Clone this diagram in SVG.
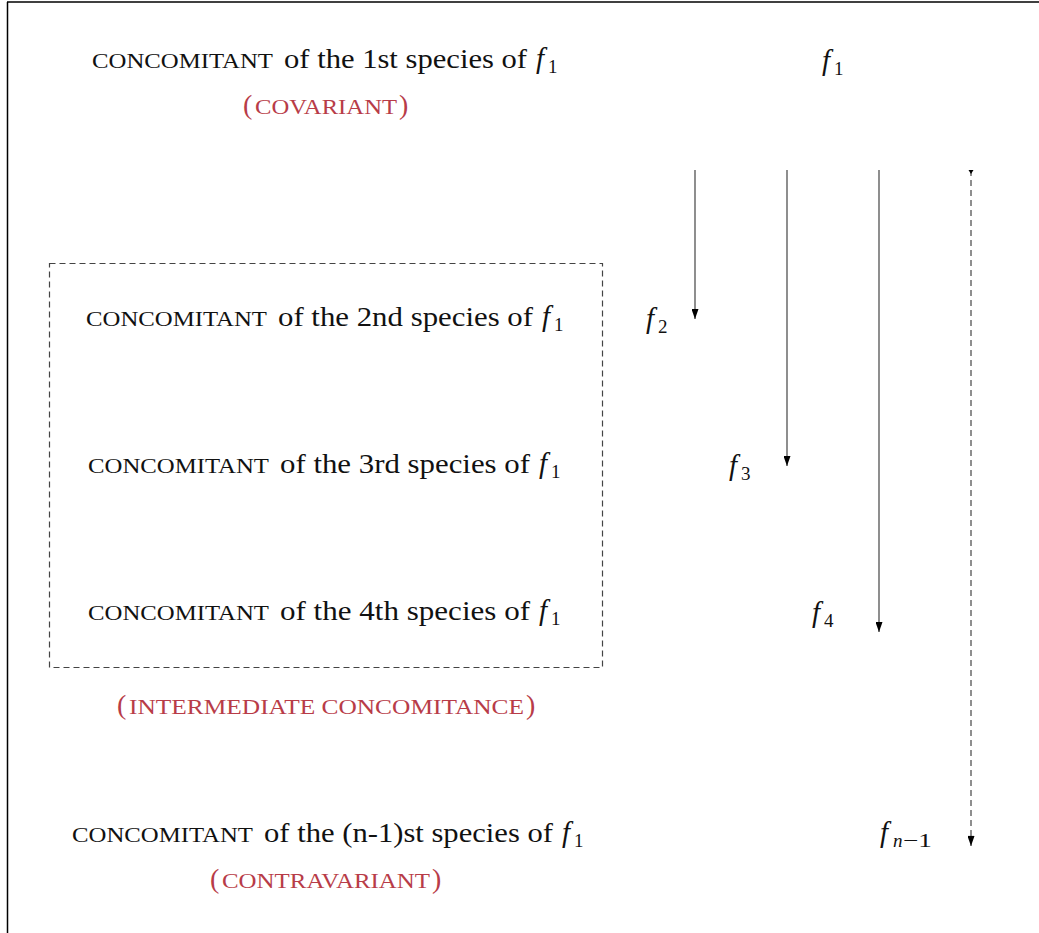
<svg xmlns="http://www.w3.org/2000/svg" width="1039" height="933" viewBox="0 0 1039 933">
  <defs>
    <style>
      text { font-family: "Liberation Serif", "DejaVu Serif", serif; fill: #111; }
      .sc { font-size: 20px; }
      .rm { font-size: 28px; }
      .it { font-size: 29px; font-style: italic; }
      .sub { font-size: 19px; }
      .subit { font-size: 19px; font-style: italic; }
      .red { fill: #b83c48; }
      .conn { stroke: #444; stroke-width: 1.2; fill: none; }
      .dash { stroke: #444; stroke-width: 1.2; fill: none; stroke-dasharray: 6 4; }
    </style>
    <marker id="ah" viewBox="0 0 10 7" refX="10" refY="3.5" markerWidth="10" markerHeight="7" markerUnits="userSpaceOnUse" orient="auto">
      <path d="M0,0 L10,3.5 L0,7 Z" fill="#000"/>
    </marker>
  </defs>
  <rect width="1039" height="933" fill="#fff"/>
  <g id="frame">
    <line x1="7" y1="2" x2="1039" y2="2" stroke="#000" stroke-width="1.5"/>
    <line x1="7.5" y1="2" x2="7.5" y2="933" stroke="#000" stroke-width="1.5"/>
  </g>

  <g id="box">
    <rect x="49.5" y="263.5" width="553" height="404" fill="none" stroke="#444" stroke-width="1.2" stroke-dasharray="6 4"/>
  </g>

  <g id="node-c1">
    <text class="sc" x="92" y="68" textLength="181" lengthAdjust="spacingAndGlyphs">CONCOMITANT</text>
    <text class="rm" x="284" y="68" textLength="243" lengthAdjust="spacingAndGlyphs">of the 1st species of</text>
    <text class="it" x="536" y="68">f</text>
    <text class="sub" x="548" y="73">1</text>
    <text class="rm red" x="243" y="114">(</text>
    <text class="sc red" x="255" y="114" textLength="142" lengthAdjust="spacingAndGlyphs">COVARIANT</text>
    <text class="rm red" x="399" y="114">)</text>
  </g>

  <g id="node-c2">
    <text class="sc" x="86" y="326" textLength="181" lengthAdjust="spacingAndGlyphs">CONCOMITANT</text>
    <text class="rm" x="278" y="326" textLength="255" lengthAdjust="spacingAndGlyphs">of the 2nd species of</text>
    <text class="it" x="542" y="326">f</text>
    <text class="sub" x="554" y="331">1</text>
  </g>

  <g id="node-c3">
    <text class="sc" x="88" y="473" textLength="181" lengthAdjust="spacingAndGlyphs">CONCOMITANT</text>
    <text class="rm" x="280" y="473" textLength="250" lengthAdjust="spacingAndGlyphs">of the 3rd species of</text>
    <text class="it" x="539" y="473">f</text>
    <text class="sub" x="551" y="478">1</text>
  </g>

  <g id="node-c4">
    <text class="sc" x="88" y="620" textLength="181" lengthAdjust="spacingAndGlyphs">CONCOMITANT</text>
    <text class="rm" x="280" y="620" textLength="250" lengthAdjust="spacingAndGlyphs">of the 4th species of</text>
    <text class="it" x="539" y="620">f</text>
    <text class="sub" x="551" y="625">1</text>
  </g>

  <g id="label-intermediate">
    <text class="rm red" x="117" y="714">(</text>
    <text class="sc red" x="129" y="714" textLength="395" lengthAdjust="spacingAndGlyphs">INTERMEDIATE CONCOMITANCE</text>
    <text class="rm red" x="526" y="714">)</text>
  </g>

  <g id="node-cn">
    <text class="sc" x="72" y="842" textLength="181" lengthAdjust="spacingAndGlyphs">CONCOMITANT</text>
    <text class="rm" x="264" y="842" textLength="289" lengthAdjust="spacingAndGlyphs">of the (n-1)st species of</text>
    <text class="it" x="562" y="842">f</text>
    <text class="sub" x="574" y="847">1</text>
    <text class="rm red" x="210" y="888">(</text>
    <text class="sc red" x="222" y="888" textLength="208" lengthAdjust="spacingAndGlyphs">CONTRAVARIANT</text>
    <text class="rm red" x="432" y="888">)</text>
  </g>

  <g id="node-f1">
    <text class="it" x="822" y="70">f</text>
    <text class="sub" x="834" y="75">1</text>
  </g>
  <g id="node-f2">
    <text class="it" x="646" y="328">f</text>
    <text class="sub" x="658" y="333">2</text>
  </g>
  <g id="node-f3">
    <text class="it" x="729" y="475">f</text>
    <text class="sub" x="741" y="480">3</text>
  </g>
  <g id="node-f4">
    <text class="it" x="812" y="622">f</text>
    <text class="sub" x="824" y="627">4</text>
  </g>
  <g id="node-fn">
    <text class="it" x="880" y="842">f</text>
    <text class="subit" x="893" y="847">n</text>
    <text class="sub" x="903" y="847" textLength="29" lengthAdjust="spacingAndGlyphs">−1</text>
  </g>

  <g id="connectors">
    <line class="conn" x1="695" y1="170" x2="695" y2="319" marker-end="url(#ah)"/>
    <line class="conn" x1="787" y1="170" x2="787" y2="466" marker-end="url(#ah)"/>
    <line class="conn" x1="879" y1="170" x2="879" y2="632" marker-end="url(#ah)"/>
    <line class="dash" x1="971" y1="170" x2="971" y2="846" marker-end="url(#ah)"/>
    <path d="M968.5,170 L973.5,170 L971,174 Z" fill="#000"/>
    <line x1="968" y1="836.5" x2="974" y2="836.5" stroke="#000" stroke-width="1.2"/>
  </g>
</svg>
